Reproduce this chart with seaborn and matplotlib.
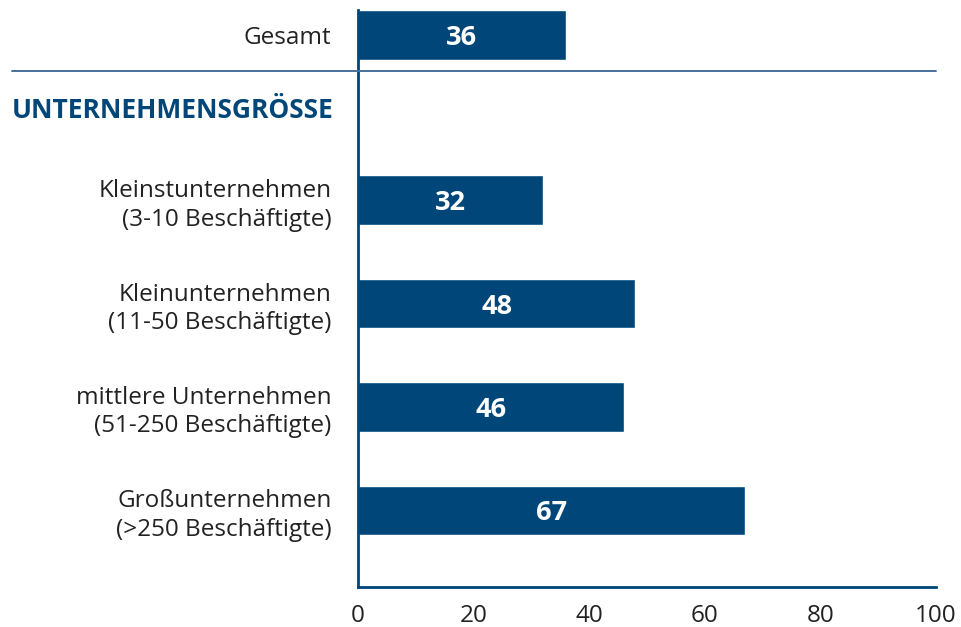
import matplotlib
matplotlib.use("Agg")
import matplotlib.pyplot as plt
import pandas as pd
import seaborn as sns
from matplotlib.lines import Line2D

categories = [
    "Gesamt",
    "Kleinstunternehmen\n(3-10 Beschäftigte)",
    "Kleinunternehmen\n(11-50 Beschäftigte)",
    "mittlere Unternehmen\n(51-250 Beschäftigte)",
    "Großunternehmen\n(>250 Beschäftigte)",
]
values = [36, 32, 48, 46, 67]
group_title = "UNTERNEHMENSGRÖSSE"
x_ticks = [0, 20, 40, 60, 80, 100]

BLUE = "#004678"
LINE = "#46709a"
TEXT = "#222222"

# row positions: Gesamt on top, then a gap for the group heading
rows = [0, 1.6, 2.6, 3.6, 4.6]
df = pd.DataFrame({"label": categories, "value": values, "pos": rows})

sns.set_style("white")
plt.rcParams["font.family"] = ["Open Sans", "DejaVu Sans"]

fig = plt.figure(figsize=(9.62, 6.27), dpi=100)
ax = fig.add_axes([0.372, 0.064, 0.601, 0.920])

sns.barplot(data=df, x="value", y="pos", orient="h", native_scale=True,
            color=BLUE, saturation=1, width=0.48, ax=ax)

for _, r in df.iterrows():
    ax.text(r["value"] / 2, r["pos"] + 0.03, f"{r['value']}", ha="center",
            va="center", color="white", fontsize=19.5, fontweight="bold")

ax.set_ylim(5.34, -0.24)
ax.set_xlim(0, 100)
ax.set_xticks(x_ticks)
ax.set_xticklabels([str(t) for t in x_ticks], fontsize=17.5, color=TEXT)
ax.set_yticks(rows)
ax.set_yticklabels(categories, fontsize=17.5, color=TEXT, ha="right",
                   linespacing=1.25)
ax.tick_params(axis="y", length=0, pad=19)
ax.tick_params(axis="x", length=7, width=2, color=BLUE, pad=5, direction="out")
ax.set_xlabel("")
ax.set_ylabel("")
for s in ["top", "right"]:
    ax.spines[s].set_visible(False)
for s in ["left", "bottom"]:
    ax.spines[s].set_color(BLUE)
    ax.spines[s].set_linewidth(2)

# separator under Gesamt, reaching past the axes into the label column
sep_y = 1 - 71 / 627
fig.add_artist(Line2D([12 / 962, 936 / 962], [sep_y, sep_y],
                      transform=fig.transFigure, color=LINE, linewidth=1.4))
fig.text(12 / 962, 1 - 111 / 627, group_title, ha="left", va="center",
         fontsize=19, fontweight="bold", color=BLUE)

fig.savefig("out.png", dpi=100)
